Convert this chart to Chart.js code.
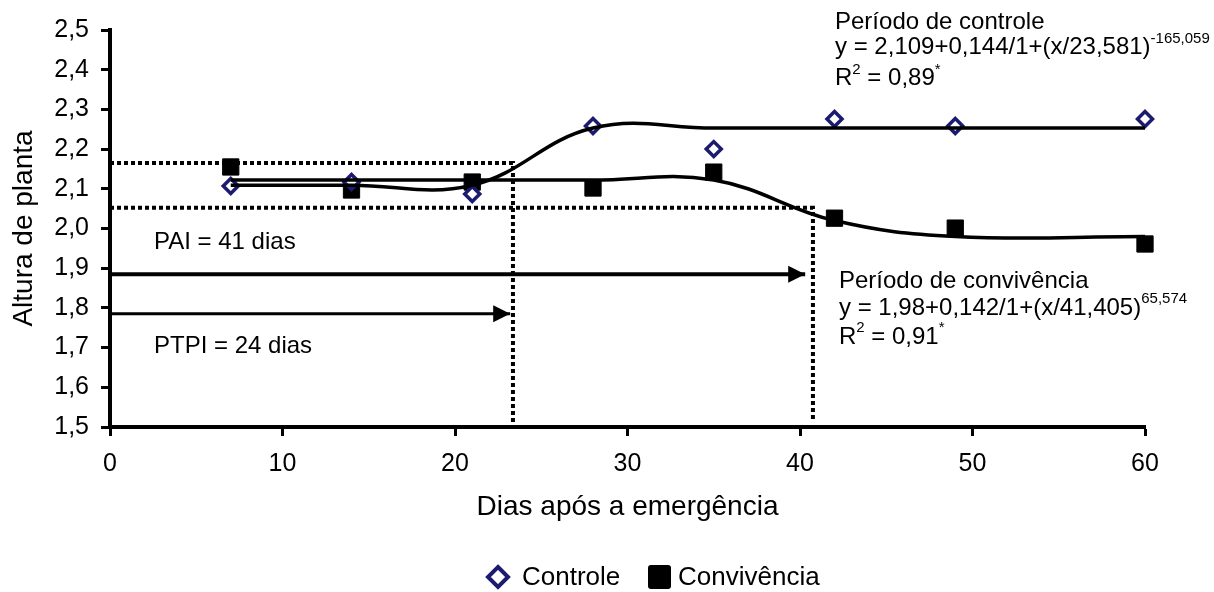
<!DOCTYPE html>
<html>
<head>
<meta charset="utf-8">
<script src="https://cdn.jsdelivr.net/npm/chart.js@4.4.1/dist/chart.umd.min.js"></script>
<style>
  html, body { margin: 0; padding: 0; background: #fff; }
  #wrap { width: 1214px; height: 592px; position: relative; }
</style>
</head>
<body>
<div id="wrap"><canvas id="chart"></canvas></div>
<script>
// dias após a emergência
const dias = [7, 14, 21, 28, 35, 42, 49, 60];
// altura de planta observada
const controle = [2.107, 2.117, 2.087, 2.258, 2.200, 2.276, 2.258, 2.276];
const convivencia = [2.155, 2.097, 2.117, 2.102, 2.142, 2.026, 2.001, 1.961];
// curvas ajustadas
const ajusteControle = [2.109, 2.109, 2.109, 2.253, 2.253, 2.253, 2.253, 2.253];
const ajusteConvivencia = [2.122, 2.122, 2.122, 2.122, 2.122, 2.020, 1.980, 1.980];
// linhas pontilhadas e setas
const ptpiGuiaX = [0, 23.36, 23.36];
const ptpiGuiaY = [2.165, 2.165, 1.51];
const paiGuiaX = [0, 40.75, 40.75];
const paiGuiaY = [2.052, 2.052, 1.52];
const paiSetaX = [0, 40.3];
const paiSetaY = [1.885, 1.885];
const ptpiSetaX = [0, 23.2];
const ptpiSetaY = [1.785, 1.785];
// eixos
const xTicks = [0, 10, 20, 30, 40, 50, 60];
const yMin = 1.5, yMax = 2.5;

const FONT = "'Liberation Sans', Arial, sans-serif";
const NAVY = "#1b1b6f";

const pts = (xs, ys) => xs.map((x, i) => ({ x: x, y: ys[i] }));

// textos (posição em unidades dos eixos)
const notas = [
  { x: 2.55, y: 1.966, runs: [["PAI = 41 dias"]] },
  { x: 2.55, y: 1.704, runs: [["PTPI = 24 dias"]] },
  { x: 42.03, y: 2.518, runs: [["Período de controle"]] },
  { x: 42.03, y: 2.455, runs: [["y = 2,109+0,144/1+(x/23,581)"], ["-165,059", true]] },
  { x: 42.03, y: 2.377, runs: [["R"], ["2", true], [" = 0,89"], ["*", true]] },
  { x: 42.26, y: 1.868, runs: [["Período de convivência"]] },
  { x: 42.26, y: 1.800, runs: [["y = 1,98+0,142/1+(x/41,405)"], ["65,574", true]] },
  { x: 42.26, y: 1.727, runs: [["R"], ["2", true], [" = 0,91"], ["*", true]] }
];

const textosPlugin = {
  id: "textos",
  afterDatasetsDraw(chart) {
    const ctx = chart.ctx;
    const sx = chart.scales.x, sy = chart.scales.y;
    ctx.save();
    ctx.fillStyle = "#000";
    ctx.textBaseline = "middle";
    ctx.textAlign = "left";
    notas.forEach(n => {
      let px = sx.getPixelForValue(n.x);
      const py = sy.getPixelForValue(n.y);
      n.runs.forEach(r => {
        if (r[1]) {
          ctx.font = "15px " + FONT;
          ctx.fillText(r[0], px, py - 9);
        } else {
          ctx.font = "24px " + FONT;
          ctx.fillText(r[0], px, py);
        }
        px += ctx.measureText(r[0]).width;
      });
    });

    // setas
    chart.data.datasets.forEach((ds, i) => {
      if (!ds.seta) return;
      const d = chart.getDatasetMeta(i).data;
      const tip = d[d.length - 1];
      ctx.fillStyle = "#000";
      ctx.beginPath();
      ctx.moveTo(tip.x, tip.y);
      ctx.lineTo(tip.x - 17, tip.y - 8.5);
      ctx.lineTo(tip.x - 17, tip.y + 8.5);
      ctx.closePath();
      ctx.fill();
    });

    // legenda
    const ly = 577;
    ctx.lineWidth = 4;
    ctx.strokeStyle = NAVY;
    ctx.fillStyle = "#fff";
    ctx.beginPath();
    ctx.moveTo(498, ly - 10);
    ctx.lineTo(508, ly);
    ctx.lineTo(498, ly + 10);
    ctx.lineTo(488, ly);
    ctx.closePath();
    ctx.fill();
    ctx.stroke();
    ctx.fillStyle = "#000";
    ctx.beginPath();
    ctx.roundRect(648, ly - 12, 23, 24, 3);
    ctx.fill();
    ctx.font = "26px " + FONT;
    ctx.fillText("Controle", 522, ly + 1);
    ctx.fillText("Convivência", 678, ly + 1);
    ctx.restore();
  }
};

const ctx = document.getElementById("chart").getContext("2d");
new Chart(ctx, {
  type: "line",
  data: {
    datasets: [
      {
        label: "guia PTPI",
        data: pts(ptpiGuiaX, ptpiGuiaY),
        borderColor: "#000",
        borderWidth: 4,
        borderDash: [4, 3],
        pointRadius: 0,
        tension: 0
      },
      {
        label: "guia PAI",
        data: pts(paiGuiaX, paiGuiaY),
        borderColor: "#000",
        borderWidth: 4,
        borderDash: [4, 3],
        pointRadius: 0,
        tension: 0
      },
      {
        label: "seta PAI",
        data: pts(paiSetaX, paiSetaY),
        borderColor: "#000",
        borderWidth: 4,
        pointRadius: 0,
        tension: 0,
        seta: true
      },
      {
        label: "seta PTPI",
        data: pts(ptpiSetaX, ptpiSetaY),
        borderColor: "#000",
        borderWidth: 3,
        pointRadius: 0,
        tension: 0,
        seta: true
      },
      {
        label: "ajuste controle",
        data: pts(dias, ajusteControle),
        borderColor: "#000",
        borderWidth: 3.5,
        pointRadius: 0,
        tension: 0.4
      },
      {
        label: "ajuste convivência",
        data: pts(dias, ajusteConvivencia),
        borderColor: "#000",
        borderWidth: 3.5,
        pointRadius: 0,
        tension: 0.4
      },
      {
        label: "Controle",
        data: pts(dias, controle),
        showLine: false,
        pointStyle: "rectRot",
        pointRadius: 7.5,
        pointBorderWidth: 3.5,
        pointBorderColor: NAVY,
        pointBackgroundColor: "#fff",
        clip: false
      },
      {
        label: "Convivência",
        data: pts(dias, convivencia),
        showLine: false,
        pointStyle: "rect",
        pointRadius: 11.5,
        pointBorderWidth: 1,
        pointBorderColor: "#000",
        pointBackgroundColor: "#000",
        clip: false
      }
    ]
  },
  options: {
    responsive: true,
    maintainAspectRatio: false,
    animation: false,
    layout: { padding: { top: 30, right: 69, left: 0, bottom: 0 } },
    plugins: {
      legend: { display: false },
      tooltip: { enabled: false }
    },
    scales: {
      x: {
        type: "linear",
        min: 0,
        max: 60,
        afterFit: s => { s.height = 165; },
        afterBuildTicks: s => { s.ticks = xTicks.map(v => ({ value: v })); },
        border: { color: "#000", width: 4 },
        grid: { drawOnChartArea: false, drawTicks: true, tickLength: 9, tickColor: "#000", tickWidth: 3 },
        ticks: { color: "#000", padding: 13, font: { family: FONT, size: 25 } },
        title: {
          display: true,
          text: "Dias após a emergência",
          color: "#000",
          font: { family: FONT, size: 28 },
          padding: { top: 0, bottom: 68 }
        }
      },
      y: {
        min: yMin,
        max: yMax,
        afterFit: s => { s.width = 110; },
        border: { color: "#000", width: 4 },
        grid: { drawOnChartArea: false, drawTicks: true, tickLength: 9, tickColor: "#000", tickWidth: 3 },
        ticks: {
          stepSize: 0.1,
          color: "#000",
          padding: 12,
          font: { family: FONT, size: 25 },
          callback: v => v.toFixed(1).replace(".", ",")
        },
        title: {
          display: true,
          text: "Altura de planta",
          color: "#000",
          font: { family: FONT, size: 28 },
          padding: { top: 7, bottom: 0 }
        }
      }
    }
  },
  plugins: [textosPlugin]
});
</script>
</body>
</html>
